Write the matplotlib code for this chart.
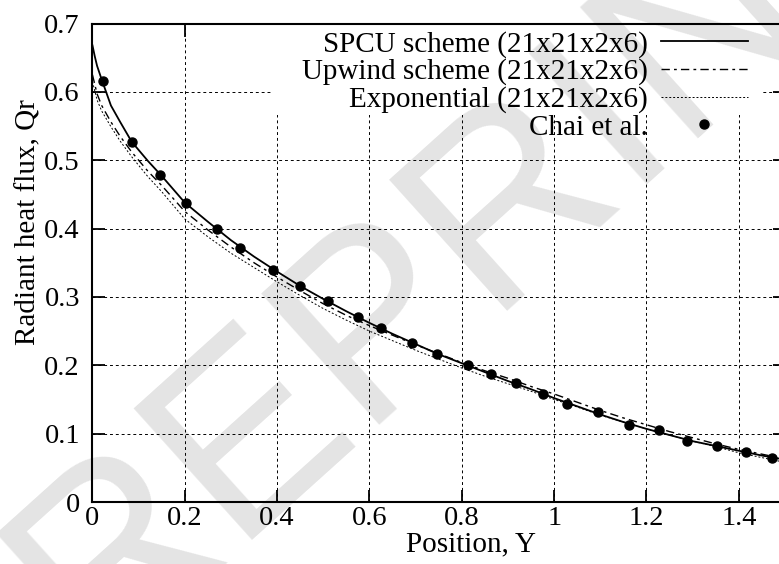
import numpy as np
import matplotlib
matplotlib.use("Agg")
import matplotlib.pyplot as plt
from matplotlib.patches import Rectangle

plt.rcParams['font.family'] = ['Liberation Serif', 'DejaVu Serif']

# SPCU scheme (21x21x2x6)
spcu_x = [0, 0.005, 0.01, 0.02, 0.04, 0.06, 0.085, 0.12, 0.15, 0.2, 0.25, 0.3, 0.35, 0.4,
          0.45, 0.5, 0.55, 0.6, 0.65, 0.7, 0.75, 0.8, 0.85, 0.9, 0.95, 1.0, 1.05, 1.1,
          1.15, 1.2, 1.25, 1.3, 1.35, 1.4, 1.45, 1.5]
spcu_q = [0.668, 0.652, 0.638, 0.618, 0.580, 0.556, 0.527, 0.499, 0.477, 0.438, 0.410, 0.383,
          0.359, 0.337, 0.316, 0.297, 0.279, 0.262, 0.246, 0.231, 0.216, 0.203, 0.190, 0.177,
          0.165, 0.152, 0.140, 0.128, 0.117, 0.107, 0.098, 0.089, 0.082, 0.075, 0.068, 0.062]

# Upwind scheme (21x21x2x6)
upw_x = [0, 0.01, 0.02, 0.04, 0.06, 0.085, 0.12, 0.15, 0.2, 0.25, 0.3, 0.35, 0.4, 0.45, 0.5,
         0.55, 0.6, 0.65, 0.7, 0.75, 0.8, 0.85, 0.9, 0.95, 1.0, 1.05, 1.1, 1.15, 1.2, 1.25,
         1.3, 1.35, 1.4, 1.45, 1.5]
upw_q = [0.625, 0.597, 0.580, 0.556, 0.535, 0.512, 0.484, 0.463, 0.425, 0.398, 0.373, 0.350,
         0.329, 0.309, 0.290, 0.273, 0.258, 0.244, 0.230, 0.217, 0.204, 0.192, 0.181, 0.169,
         0.158, 0.146, 0.134, 0.123, 0.113, 0.103, 0.094, 0.085, 0.077, 0.070, 0.063]

# Exponential (21x21x2x6)
exp_x = upw_x
exp_q = [0.615, 0.588, 0.572, 0.549, 0.528, 0.505, 0.476, 0.454, 0.414, 0.388, 0.364, 0.343,
         0.322, 0.302, 0.283, 0.266, 0.250, 0.236, 0.222, 0.209, 0.196, 0.184, 0.173, 0.162,
         0.150, 0.139, 0.127, 0.117, 0.107, 0.098, 0.089, 0.081, 0.072, 0.065, 0.058]

# Chai et al.
chai_x = [0.023, 0.085, 0.147, 0.202, 0.270, 0.320, 0.392, 0.450, 0.510, 0.575, 0.625, 0.692,
          0.746, 0.814, 0.864, 0.918, 0.975, 1.027, 1.094, 1.163, 1.227, 1.287, 1.352, 1.415,
          1.471]
chai_q = [0.616, 0.527, 0.479, 0.437, 0.400, 0.372, 0.340, 0.316, 0.294, 0.270, 0.254, 0.232,
          0.217, 0.200, 0.187, 0.174, 0.158, 0.143, 0.131, 0.113, 0.106, 0.089, 0.082, 0.073,
          0.065]

xticks = [0, 0.2, 0.4, 0.6, 0.8, 1.0, 1.2, 1.4]
yticks = [0, 0.1, 0.2, 0.3, 0.4, 0.5, 0.6, 0.7]

fs_tick = 20.5
fs = 21

fig = plt.figure(figsize=(7.79, 5.64), dpi=100)
# right edge of the plot lies just outside the picture, as in the original crop
ax = fig.add_axes([0.1187, 0.1099, 0.8890, 0.8484])

ax.plot(spcu_x, spcu_q, color='black', lw=1.3, label='SPCU scheme (21x21x2x6)', zorder=3)
ax.plot(upw_x, upw_q, color='black', lw=1.0, dashes=(6, 3, 2, 3),
        label='Upwind scheme (21x21x2x6)', zorder=3)
ax.plot(exp_x, exp_q, color='black', lw=0.7, dashes=(2, 2),
        label='Exponential (21x21x2x6)', zorder=3)
ax.plot(chai_x, chai_q, 'o', color='black', ms=6.5, label='Chai et al.', zorder=4)

ax.set_xlim(0, 1.5)
ax.set_ylim(0, 0.7)
ax.set_xticks(xticks)
ax.set_yticks(yticks)
ax.set_xticklabels([f"{v:g}" for v in xticks])
ax.set_yticklabels([f"{v:g}" for v in yticks])
ax.tick_params(direction='in', length=9, width=1.3, top=True, right=True,
               labelsize=fs_tick, colors='black')
ax.tick_params(axis='x', pad=3)
ax.tick_params(axis='y', pad=9)
for s in ax.spines.values():
    s.set_linewidth(1.5)

ax.set_axisbelow(True)
ax.grid(True, color='black', lw=0.7, dashes=(3, 3))

ax.set_xlabel('Position, Y', fontsize=fs)
ax.set_ylabel('Radiant heat flux, Qr', fontsize=fs)
ax.xaxis.set_label_coords(0.5466, -0.062)
ax.yaxis.set_label_coords(-0.074, 0.585)

# opaque key area (gnuplot "key opaque") hides the grid behind the legend
ax.add_patch(Rectangle((0.2592, 0.8088), 0.7076, 0.1912, transform=ax.transAxes,
                       facecolor='white', edgecolor='none', zorder=1))

ax.legend(loc='upper right', bbox_to_anchor=(0.9466, 0.985), frameon=False,
          markerfirst=False, fontsize=fs, borderpad=0, borderaxespad=0,
          handlelength=3.0, handletextpad=0.45, labelspacing=0.03)

# faint watermark, drawn as a light veil over the figure
fig.text(0.52, 0.48, 'PREPRINT', fontsize=185, family='Liberation Sans',
         rotation=42, ha='center', va='center', color='black', alpha=0.11, zorder=10)

fig.savefig('out.png', dpi=100)
